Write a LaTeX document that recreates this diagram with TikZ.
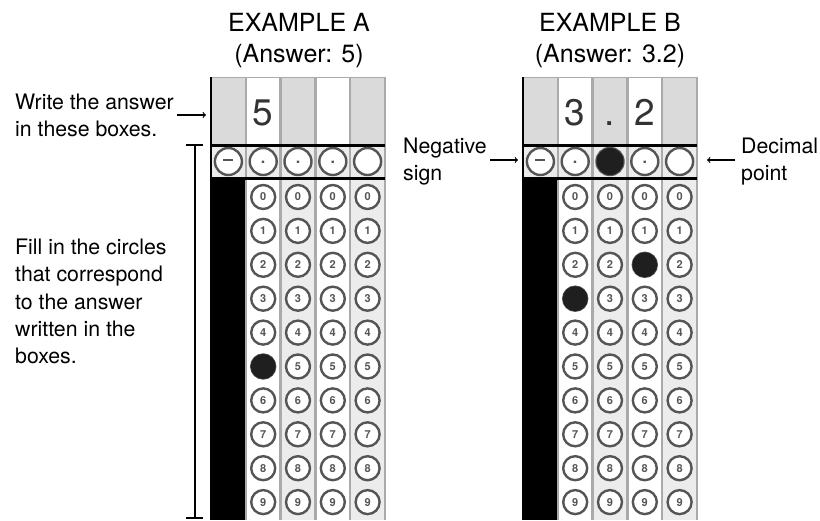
\documentclass[tikz,border=0pt]{standalone}
\usepackage{fontspec}
\setmainfont{TeX Gyre Heros}
\usetikzlibrary{arrows,positioning}
\definecolor{ringgray}{RGB}{85,85,85}
\definecolor{rulegray}{RGB}{170,170,170}
\definecolor{shadegray}{RGB}{218,218,218}
\definecolor{palegray}{RGB}{236,236,236}

\begin{document}
\begin{tikzpicture}[x=1pt,y=-1pt,
    lbl/.style={align=left,anchor=north west,inner sep=0pt,font=\fontsize{21.3}{27.2}\selectfont},
    ttl/.style={align=center,anchor=north,inner sep=0pt,font=\fontsize{25}{31.5}\selectfont},
    bubble/.style={circle,draw=ringgray,line width=2.4pt,fill=white,minimum size=24pt,inner sep=0pt,
        font=\fontsize{11}{11}\selectfont\bfseries\color{ringgray}},
    filled/.style={circle,fill=black!88,minimum size=25pt,inner sep=0pt},
    written/.style={anchor=base,inner sep=0pt,font=\fontsize{37}{37}\selectfont\color{black!80}},
    ptr/.style={->,line width=1.2pt}]
    \useasboundingbox (0,0) rectangle (820,520);

    % Titles
    \node[ttl] (titleA) at (299,13) {EXAMPLE A\\(Answer: 5)};
    \node[ttl] (titleB) at (610,13) {EXAMPLE B\\(Answer: 3.2)};

    % Grids
    \foreach \gx/\gn in {211/A,523/B} {
        % column shading
        \foreach \c in {0,2,4}
            \fill[shadegray] (\gx+\c*34.8,77) rectangle ++(34.8,68);
        \fill[palegray] (\gx,145) rectangle (\gx+174,178);
        \foreach \c in {2,4}
            \fill[palegray] (\gx+\c*34.8,178) rectangle ++(34.8,342);
        \fill[black] (\gx,178) rectangle (\gx+34.8,520);
        % rules
        \foreach \c in {1,...,5}
            \draw[rulegray,line width=2.5pt] (\gx+\c*34.8,77) -- (\gx+\c*34.8,520);
        \draw[rulegray,line width=1pt] (\gx,77) -- (\gx+174,77);
        \draw[line width=2pt] (\gx,77) -- (\gx,520);
        \draw[line width=3pt] (\gx,145) -- (\gx+174,145);
        \draw[line width=3pt] (\gx,178) -- (\gx+174,178);
        % sign and point row
        \node[bubble,minimum size=27pt] (\gn-p-0) at (\gx+17.4,161.5) {\rule[3pt]{10pt}{1.8pt}};
        \foreach \c in {1,2,3}
            \node[bubble,minimum size=27pt] (\gn-p-\c) at (\gx+17.4+\c*34.8,161.5)
                {\raisebox{-3pt}{\fontsize{16}{16}\selectfont.}};
        \node[bubble,minimum size=27pt] (\gn-p-4) at (\gx+17.4+4*34.8,161.5) {};
        % digit bubbles
        \foreach \c in {1,...,4}
            \foreach \r in {0,...,9}
                \node[bubble] (\gn-\c-\r) at (\gx+17.4+\c*34.8,197+33.9*\r) {\r};
    }

    % Written answers
    \node[written] (digA) at (A-1-0 |- 0,125) {5};
    \node[written] (digB1) at (B-1-0 |- 0,125) {3};
    \node[written] (digB2) at (B-2-0 |- 0,125) {.};
    \node[written] (digB3) at (B-3-0 |- 0,125) {2};

    % Filled circles
    \node[filled] at (A-1-5) {};
    \node[filled] at (B-1-3) {};
    \node[filled] at (B-3-2) {};
    \node[filled,minimum size=27pt] at (B-p-2) {};

    % Side labels
    \node[lbl] (writeLbl) at (15,94) {Write the answer\\in these boxes.};
    \node[lbl] (fillLbl) at (15,239) {Fill in the circles\\that correspond\\to the answer\\written in the\\boxes.};
    \node[lbl] (negLbl) at (403,138) {Negative\\sign};
    \node[lbl] (decLbl) at (741,138) {Decimal\\point};

    % Pointers
    \coordinate (writeStart) at (177,115);
    \coordinate (boxEdge) at (206,115);
    \coordinate (negStart) at (490,160);
    \coordinate (negEnd) at (518,160);
    \coordinate (decStart) at (735,160);
    \coordinate (decEnd) at (707,160);
    \draw[ptr] (writeStart) -- (boxEdge);
    \draw[ptr] (negStart) -- (negEnd);
    \draw[ptr] (decStart) -- (decEnd);

    % Bracket
    \coordinate (brTop) at (195,145);
    \coordinate (brBot) at (195,518);
    \draw[line width=1.4pt] (brTop) -- (brBot);
    \draw[line width=1.4pt] ([xshift=-9pt]brTop) -- ([xshift=8pt]brTop);
    \draw[line width=1.4pt] ([xshift=-9pt]brBot) -- ([xshift=8pt]brBot);
\end{tikzpicture}
\end{document}
